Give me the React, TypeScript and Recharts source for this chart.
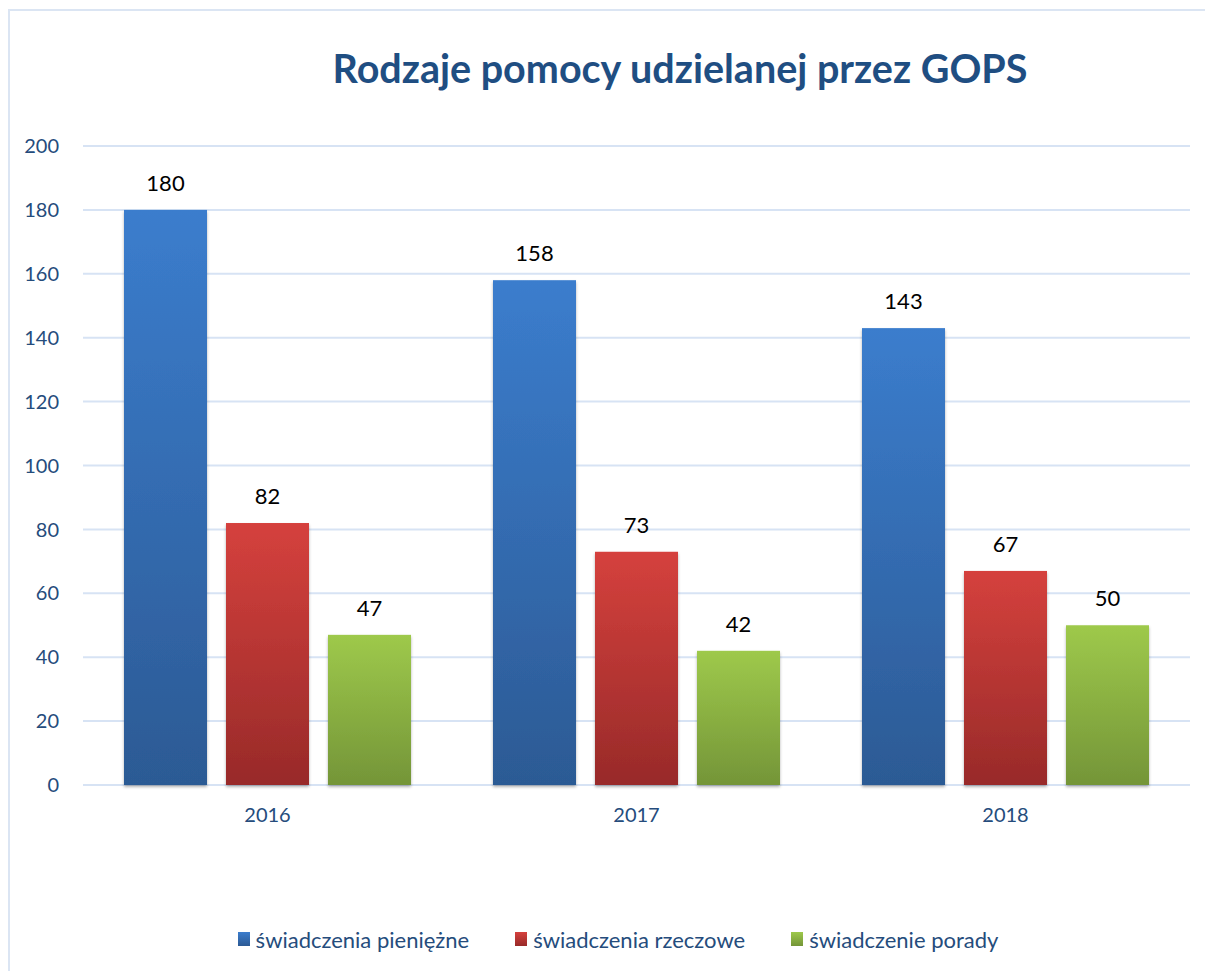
import React from 'react';
import { BarChart, Bar, XAxis, YAxis, CartesianGrid, LabelList, Legend } from 'recharts';

const years = ['2016', '2017', '2018'];
const pieniezne = [180, 158, 143];
const rzeczowe = [82, 73, 67];
const porady = [47, 42, 50];
const yTicks = [0, 20, 40, 60, 80, 100, 120, 140, 160, 180, 200];

const seriesNames = ['świadczenia pieniężne', 'świadczenia rzeczowe', 'świadczenie porady'];
const seriesKeys = ['pieniezne', 'rzeczowe', 'porady'];
const gradients = [
  { id: 'gBlue', top: '#3b7dcd', bottom: '#2c5a94' },
  { id: 'gRed', top: '#d5413d', bottom: '#982a29' },
  { id: 'gGreen', top: '#9ec94b', bottom: '#749538' },
];

const data = years.map((y, i) => ({
  year: y,
  pieniezne: pieniezne[i],
  rzeczowe: rzeczowe[i],
  porady: porady[i],
}));

const FONT = 'Lato, "Open Sans", sans-serif';
const TEXT_BLUE = '#254c7c';

const ShadowBar = (props: any) => {
  const { x, y, width, height, fill } = props;
  return <rect x={x} y={y} width={width} height={height} fill={fill} filter="url(#barShadow)" />;
};

const LegendContent = () => (
  <div style={{ display: 'flex', justifyContent: 'center', alignItems: 'center', height: 24, paddingLeft: 46, fontFamily: FONT, fontSize: 22, color: TEXT_BLUE }}>
    {seriesNames.map((n, i) => (
      <div key={n} style={{ display: 'flex', alignItems: 'center', marginRight: i < 2 ? 46 : 0 }}>
        <span style={{ width: 12, height: 14, marginRight: 6, background: `linear-gradient(${gradients[i].top}, ${gradients[i].bottom})`, display: 'inline-block' }} />
        <span>{n}</span>
      </div>
    ))}
  </div>
);

export default function App() {
  return (
    <div style={{ width: 1205, height: 971, overflow: 'hidden', position: 'relative', background: '#fff' }}>
      <style>{'body{margin:0;overflow:hidden}'}</style>
      <div style={{ position: 'absolute', left: 8, top: 9, width: 1300, height: 1100, borderTop: '2px solid #dbe5f3', borderLeft: '2px solid #dbe5f3', boxSizing: 'border-box' }} />
      <div style={{ position: 'absolute', left: 0, top: 0 }}>
        <BarChart
          width={1205}
          height={971}
          data={data}
          margin={{ top: 146, right: 15, bottom: 20, left: 0 }}
          barCategoryGap={41}
          barGap={19}
        >
          <defs>
            {gradients.map(g => (
              <linearGradient key={g.id} id={g.id} x1="0" y1="0" x2="0" y2="1">
                <stop offset="0%" stopColor={g.top} />
                <stop offset="100%" stopColor={g.bottom} />
              </linearGradient>
            ))}
            <filter id="barShadow" x="-10%" y="-5%" width="120%" height="115%">
              <feDropShadow dx="0" dy="2" stdDeviation="1.6" floodColor="#000" floodOpacity="0.3" />
            </filter>
          </defs>
          <text x={680} y={83} textAnchor="middle" fontFamily={FONT} fontWeight="bold" fontSize={39.5} fill="#1f4e82">
            Rodzaje pomocy udzielanej przez GOPS
          </text>
          <CartesianGrid vertical={false} stroke="#d7e3f4" strokeWidth={2} />
          <XAxis
            dataKey="year"
            axisLine={false}
            tickLine={false}
            height={142}
            tickMargin={17}
            tick={{ fontSize: 20, fill: TEXT_BLUE, fontFamily: FONT }}
          />
          <YAxis
            domain={[0, 200]}
            ticks={yTicks}
            axisLine={false}
            tickLine={false}
            width={83}
            tickMargin={18}
            tick={{ fontSize: 20, fill: TEXT_BLUE, fontFamily: FONT }}
          />
          <Legend verticalAlign="bottom" content={<LegendContent />} />
          {seriesKeys.map((k, i) => (
            <Bar key={k} dataKey={k} name={seriesNames[i]} fill={`url(#${gradients[i].id})`} shape={ShadowBar} isAnimationActive={false}>
              <LabelList dataKey={k} position="top" offset={19} style={{ fontSize: 22, fill: '#000', fontFamily: FONT }} />
            </Bar>
          ))}
        </BarChart>
      </div>
    </div>
  );
}
